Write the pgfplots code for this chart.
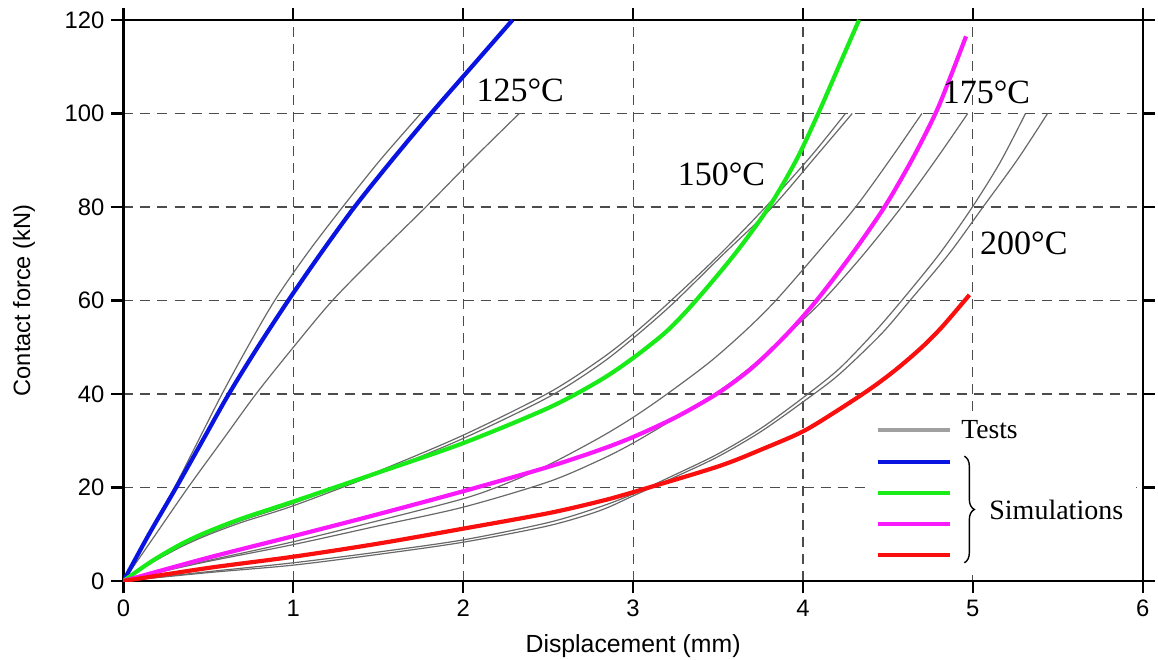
\documentclass[border=0pt]{standalone}
\usepackage{pgfplots}
\pgfplotsset{compat=1.18}
\usepackage{fontspec}
\setmainfont{Liberation Serif}
\setsansfont{Liberation Sans}
\usetikzlibrary{decorations.pathreplacing}

\definecolor{simblue}{RGB}{10,20,225}
\definecolor{simgreen}{RGB}{25,235,25}
\definecolor{simmag}{RGB}{250,25,250}
\definecolor{simred}{RGB}{250,15,15}
\definecolor{testgray}{RGB}{105,105,105}
\definecolor{leggray}{RGB}{160,160,160}

\tikzset{
  test/.style={testgray, line width=0.6pt, smooth},
  sim/.style={line width=2.1pt, smooth},
  temp/.style={font=\fontsize{17}{20}\selectfont, inner sep=0pt},
}

\begin{document}
\begin{tikzpicture}
\begin{axis}[
  name=ax,
  scale only axis, width=509.6pt, height=280.5pt,
  xmin=0, xmax=6, ymin=0, ymax=120,
  xtick={0,1,...,6}, ytick={0,20,...,120},
  grid=major,
  major grid style={dash pattern=on 5pt off 3.5pt, line width=0.6pt, black!70},
  axis line style={line width=1.1pt},
  tick style={line width=1.1pt, black},
  major tick length=6pt, tick align=outside,
  /pgf/number format/assume math mode=true,
  ticklabel style={font=\sffamily\fontsize{11.9}{13}\selectfont},
  xlabel={Displacement (mm)}, ylabel={Contact force (kN)},
  xlabel style={font=\sffamily\fontsize{12.4}{14}\selectfont},
  ylabel style={font=\sffamily\fontsize{11.8}{13}\selectfont},
  xlabel shift=2pt, ylabel shift=8pt,
]
% tests, 125 C
\addplot[test] coordinates {(0,0)(0.15,10)(0.3,20)(0.44,30)(0.58,40)(0.73,50)(0.89,60)(1.08,70)(1.29,80)(1.51,90)(1.75,100)};
\addplot[test] coordinates {(0,0)(0.19,10)(0.38,20)(0.58,30)(0.78,40)(1.0,50)(1.23,60)(1.5,70)(1.78,80)(2.05,90)(2.33,100)};
% tests, 150 C
\addplot[test] coordinates {(0,0)(0.1,2.5)(0.2,4.8)(0.35,7.8)(0.5,10.2)(0.7,13)(1,16.6)(1.5,23.5)(2,31.2)(2.5,40.2)(2.8,47.2)(3,52.8)(3.2,59.2)(3.5,69.5)(3.78,80)(4.05,91)(4.25,100)};
\addplot[test] coordinates {(0,0)(0.1,2.4)(0.2,4.6)(0.35,7.5)(0.5,9.9)(0.7,12.6)(1,16.1)(1.5,23)(2,30.5)(2.5,39.3)(2.8,46.2)(3,51.9)(3.23,59.2)(3.52,69.5)(3.82,80)(4.08,91)(4.29,100)};
% tests, 175 C
\addplot[test] coordinates {(0,0)(0.25,2.3)(0.5,4.4)(1,8.4)(1.5,12.9)(2,17.6)(2.25,20.8)(2.5,24.8)(2.8,30.6)(3,35)(3.2,40)(3.45,46.8)(3.66,53.5)(3.84,60)(4.08,70)(4.31,80)(4.51,90)(4.70,100)};
\addplot[test] coordinates {(0,0)(0.25,2.2)(0.5,4.2)(1,7.8)(1.5,11.8)(2,15.8)(2.5,21.2)(2.8,25.8)(3,29.5)(3.27,35.3)(3.5,40.5)(3.7,46)(3.93,53.5)(4.13,60.5)(4.36,70)(4.58,80)(4.78,90)(4.97,100)};
% tests, 200 C
\addplot[test] coordinates {(0,0)(0.5,2)(1,3.9)(1.5,6.2)(2,8.8)(2.5,12.5)(2.8,15.8)(3,18.6)(3.25,22.8)(3.5,27.2)(3.75,32.6)(4,39.2)(4.21,45.3)(4.41,52.8)(4.57,59.5)(4.8,69.8)(4.99,79.6)(5.16,89.5)(5.31,100)};
\addplot[test] coordinates {(0,0)(0.5,1.8)(1,3.4)(1.5,5.7)(2,8.3)(2.5,11.8)(2.8,15)(3,18.2)(3.25,22.3)(3.5,26.6)(3.75,31.9)(4,38.3)(4.21,44.1)(4.46,52.8)(4.63,60)(4.86,70)(5.06,80)(5.26,90)(5.44,100)};
% simulations
\addplot[sim, simblue] coordinates {(0,0)(0.15,10)(0.31,20)(0.465,30)(0.62,40)(0.79,50)(0.97,60)(1.16,70)(1.36,80)(1.58,90)(1.81,100)(2.05,110)(2.29,120)};
\addplot[sim, simgreen] coordinates {(0,0)(0.1,2.6)(0.2,5)(0.35,8.1)(0.5,10.6)(0.7,13.4)(1,17)(1.5,23.2)(2,29.5)(2.5,37)(2.8,42.8)(3,47.7)(3.2,53.5)(3.37,60)(3.6,70)(3.8,80)(3.96,90)(4.09,100)(4.21,110)(4.33,120)};
\addplot[sim, simmag] coordinates {(0,0)(0.5,5)(1,9.6)(1.5,14.3)(2,19.2)(2.5,24.4)(2.8,28)(3,30.8)(3.25,35)(3.5,40.2)(3.7,45.6)(3.9,52.6)(4.08,60)(4.29,70)(4.48,80)(4.64,90)(4.78,100)(4.87,108)(4.96,116.5)};
\addplot[sim, simred] coordinates {(0,0)(0.5,2.8)(1,5.2)(1.5,8)(2,11.2)(2.5,14.5)(2.8,17)(3,19)(3.5,24.5)(3.76,28.2)(4,32)(4.2,36.4)(4.4,41.2)(4.55,45.3)(4.7,50)(4.82,54.4)(4.98,61.2)};
% temperature labels
\node[temp] at (axis cs:2.335,105) {125°C};
\node[temp] at (axis cs:3.52,87) {150°C};
\node[temp] at (axis cs:5.08,104.5) {175°C};
\node[temp] at (axis cs:5.30,72.2) {200°C};
% legend
\fill[white] (axis cs:4.38,1.2) rectangle (axis cs:5.96,35.5);
\draw[leggray, line width=2pt] (axis cs:4.44,32.3) -- (axis cs:4.865,32.3);
\draw[simblue, line width=2pt] (axis cs:4.44,25.5) -- (axis cs:4.865,25.5);
\draw[simgreen, line width=2pt] (axis cs:4.44,18.9) -- (axis cs:4.865,18.9);
\draw[simmag, line width=2pt] (axis cs:4.44,12.1) -- (axis cs:4.865,12.1);
\draw[simred, line width=2pt] (axis cs:4.44,5.6) -- (axis cs:4.865,5.6);
\node[anchor=west, inner sep=0pt, font=\fontsize{13.8}{16}\selectfont] at (axis cs:4.93,32.3) {Tests};
\draw[decorate, decoration={brace, amplitude=5pt}, line width=0.7pt] (axis cs:4.95,26.7) -- (axis cs:4.95,3.9);
\node[anchor=west, inner sep=0pt, font=\fontsize{14}{16}\selectfont] at (axis cs:5.095,15.2) {Simulations};
\end{axis}
\pgfresetboundingbox
\path ([shift={(-61.75pt,-39pt)}]ax.south west) rectangle ([shift={(7.65pt,10pt)}]ax.north east);
\end{tikzpicture}
\end{document}
